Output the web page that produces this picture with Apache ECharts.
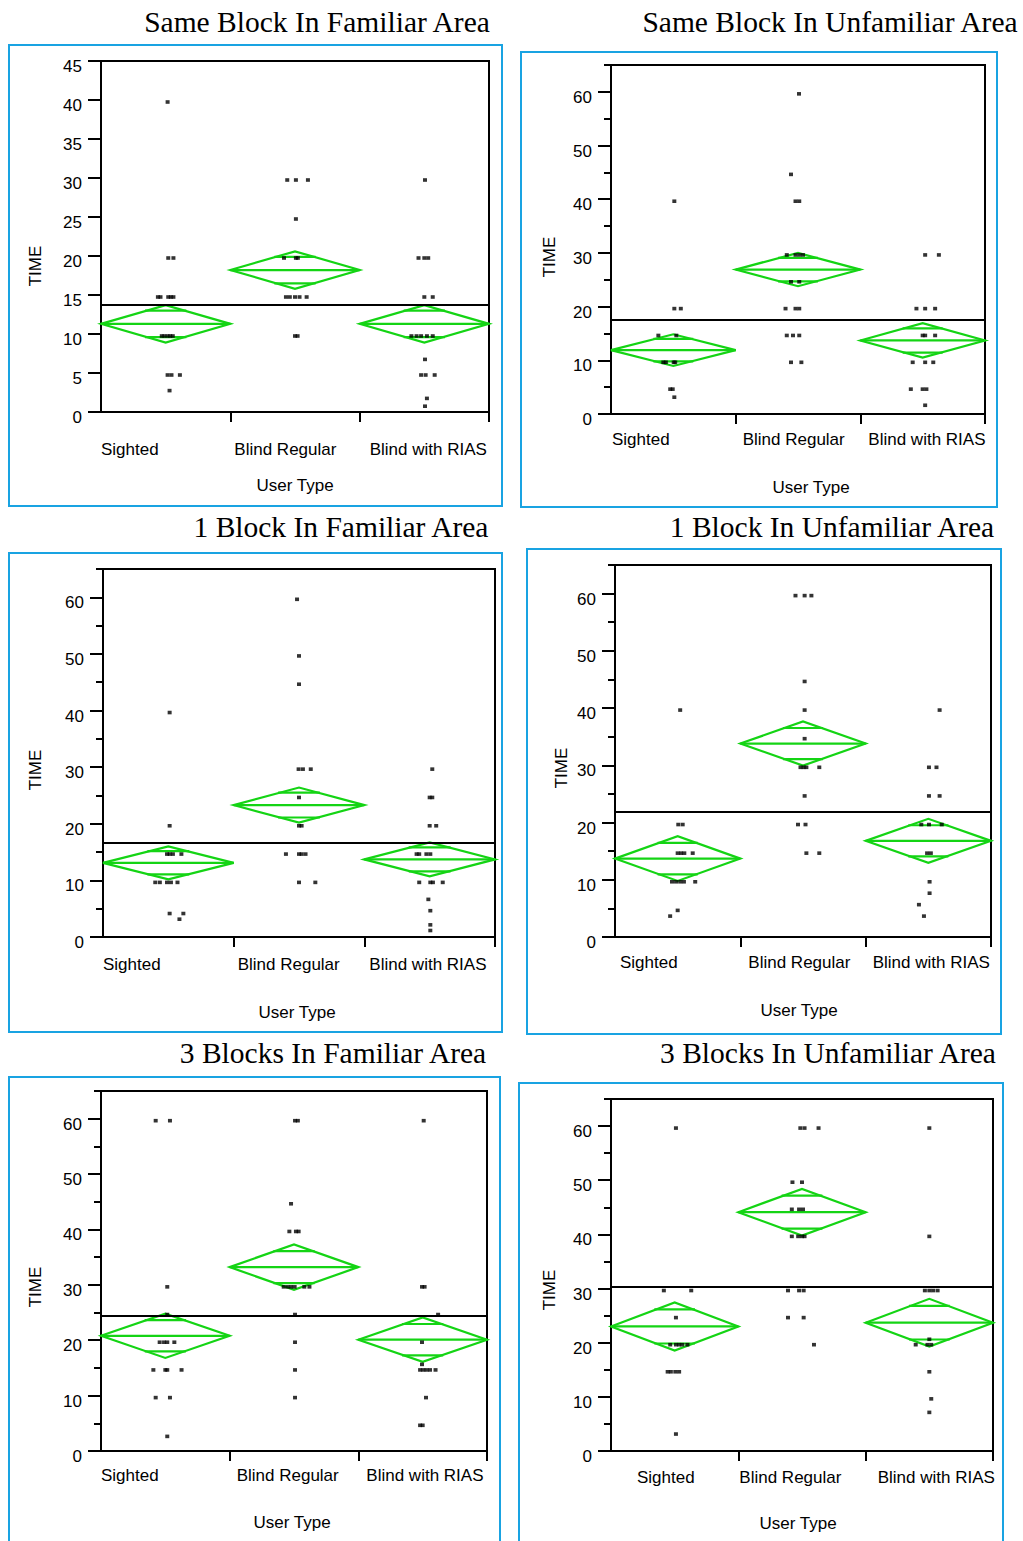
<!DOCTYPE html>
<html>
<head>
<meta charset="utf-8">
<title>TIME by User Type</title>
<script src="https://cdn.jsdelivr.net/npm/echarts@6/dist/echarts.min.js"></script>
<style>
html, body { margin: 0; padding: 0; background: #fff; }
#main { width: 1023px; height: 1541px; }
</style>
</head>
<body>
<div id="main"></div>
<script>
// categories / labels
const userTypes = ['Sighted', 'Blind Regular', 'Blind with RIAS'];
const titles = ['Same Block In Familiar Area', 'Same Block In Unfamiliar Area',
  '1 Block In Familiar Area', '1 Block In Unfamiliar Area',
  '3 Blocks In Familiar Area', '3 Blocks In Unfamiliar Area'];
const yName = 'TIME';
const xName = 'User Type';
const ticksTo45 = [0, 5, 10, 15, 20, 25, 30, 35, 40, 45];
const ticksTo60 = [0, 10, 20, 30, 40, 50, 60];
const minorTo65 = [5, 15, 25, 35, 45, 55, 65];

// points: [time, jitter within group]
const p1Sighted = [[40,.015],[20,.02],[20,.06],[15,-.06],[15,-.04],[15,.02],[15,.04],[15,.06],[10,-.03],[10,-.01],[10,.015],[10,.035],[10,.055],[5,.015],[5,.045],[5,.11],[3,.03]];
const p1Regular = [[30,-.06],[30,.007],[30,.10],[25,.007],[20,-.085],[20,.007],[20,.022],[15,-.07],[15,-.04],[15,0],[15,.035],[15,.09],[10,0],[10,.02]];
const p1Rias = [[30,.005],[20,-.045],[20,0],[20,.03],[15,0],[15,.065],[10,-.1],[10,-.06],[10,-.025],[10,.02],[10,.065],[7,.005],[5,-.025],[5,.01],[5,.08],[2,.02],[1,.005]];
const p1Means = [11.3, 18.2, 11.3];
const p1Ci = [2.4, 2.4, 2.4];
const p1Grand = 13.8;

const p2Sighted = [[40,.008],[20,.008],[20,.06],[15,-.12],[15,.024],[10,-.08],[10,-.06],[10,.003],[10,.015],[5,-.025],[5,-.005],[3.5,.008]];
const p2Regular = [[60,.008],[45,-.056],[40,-.02],[40,.01],[30,-.09],[30,-.02],[30,.01],[30,.04],[25,-.056],[25,.01],[20,-.1],[20,-.02],[20,.01],[15,-.09],[15,-.04],[15,.01],[10,-.056],[10,.027]];
const p2Rias = [[30,.02],[30,.13],[20,-.05],[20,.02],[20,.1],[15,0],[15,.02],[15,.1],[10,-.08],[10,.02],[10,.085],[5,-.095],[5,0],[5,.03],[2,.02]];
const p2Means = [11.9, 26.9, 13.7];
const p2Ci = [2.95, 3.1, 3.2];
const p2Grand = 17.5;

const p3Sighted = [[40,.01],[20,.01],[15,-.01],[15,.01],[15,.035],[15,.1],[10,-.1],[10,-.065],[10,-.01],[10,.02],[10,.07],[4.5,.01],[4.5,.115],[3.5,.085]];
const p3Regular = [[60,-.015],[50,0],[45,0],[30,-.003],[30,.03],[30,.09],[25,0],[20,0],[20,.02],[15,-.1],[15,0],[15,.02],[15,.05],[10,0],[10,.125]];
const p3Rias = [[30,.02],[25,0],[25,.02],[20,0],[20,.05],[15,-.1],[15,-.08],[15,-.025],[15,.005],[10,-.08],[10,.005],[10,.025],[10,.1],[7,-.01],[5,.005],[2.5,.005],[1.5,.005]];
const p3Means = [13.1, 23.3, 13.7];
const p3Ci = [2.9, 3.1, 3.0];
const p3Grand = 16.6;

const p4Sighted = [[40,.02],[20,.005],[20,.04],[15,0],[15,.027],[15,.053],[15,.12],[10,-.045],[10,-.013],[10,.02],[10,.05],[10,.14],[5,0],[4,-.06]];
const p4Regular = [[60,-.06],[60,.013],[60,.067],[45,.013],[40,.013],[35,.013],[30,-.02],[30,.005],[30,.027],[30,.13],[25,.013],[20,-.04],[20,.02],[15,.027],[15,.13]];
const p4Rias = [[40,.09],[30,.005],[30,.065],[25,.005],[25,.09],[20,-.056],[20,.005],[20,.107],[15,-.01],[15,.02],[10,.01],[8,.01],[6,-.075],[4,-.035]];
const p4Means = [13.7, 33.8, 16.8];
const p4Ci = [3.9, 3.85, 3.85];
const p4Grand = 21.8;

const p5Sighted = [[60,-.075],[60,.036],[30,.015],[25,.015],[20,-.044],[20,-.01],[20,.015],[20,.07],[15,-.093],[15,0],[15,.015],[15,.126],[10,-.075],[10,.036],[3,.015]];
const p5Regular = [[60,.008],[60,.03],[45,-.023],[40,-.036],[40,.015],[40,.036],[30,-.08],[30,-.05],[30,-.023],[30,.005],[30,.08],[30,.12],[25,.008],[20,.008],[15,.008],[10,.008]];
const p5Rias = [[60,.008],[30,-.005],[30,.015],[25,.12],[20,-.005],[16,-.005],[15,-.02],[15,.005],[15,.03],[15,.057],[15,.1],[10,.026],[5,-.02],[5,0]];
const p5Means = [20.8, 33.2, 20.1];
const p5Ci = [4.0, 4.1, 4.0];
const p5Grand = 24.5;

const p6Sighted = [[60,.01],[30,-.085],[30,.13],[25,.01],[20,-.035],[20,.01],[20,.035],[20,.06],[20,.1],[15,-.055],[15,-.03],[15,.005],[15,.035],[3.5,.01]];
const p6Regular = [[60,-.013],[60,.02],[60,.13],[50,-.075],[50,0],[45,-.08],[45,-.023],[45,.008],[40,-.08],[40,-.03],[40,0],[40,.02],[30,-.11],[30,-.023],[30,.013],[25,-.11],[25,.013],[20,.094]];
const p6Rias = [[60,0],[40,0],[30,-.035],[30,0],[30,.03],[30,.065],[21,0],[20,-.107],[20,-.015],[20,.015],[15,0],[10,.015],[7.5,0]];
const p6Means = [23.0, 44.1, 23.7];
const p6Ci = [4.45, 4.3, 4.4];
const p6Grand = 30.3;

const panelData = [
  { groups: [p1Sighted, p1Regular, p1Rias], means: p1Means, ci: p1Ci, grand: p1Grand, major: ticksTo45, minor: [] },
  { groups: [p2Sighted, p2Regular, p2Rias], means: p2Means, ci: p2Ci, grand: p2Grand, major: ticksTo60, minor: minorTo65 },
  { groups: [p3Sighted, p3Regular, p3Rias], means: p3Means, ci: p3Ci, grand: p3Grand, major: ticksTo60, minor: minorTo65 },
  { groups: [p4Sighted, p4Regular, p4Rias], means: p4Means, ci: p4Ci, grand: p4Grand, major: ticksTo60, minor: minorTo65 },
  { groups: [p5Sighted, p5Regular, p5Rias], means: p5Means, ci: p5Ci, grand: p5Grand, major: ticksTo60, minor: minorTo65 },
  { groups: [p6Sighted, p6Regular, p6Rias], means: p6Means, ci: p6Ci, grand: p6Grand, major: ticksTo60, minor: minorTo65 }
];

// page layout (pixels)
const layout = [
  { box: [9, 45, 493, 461], grid: [101, 61, 388, 351], yMax: 45, title: [317, 22], yLab: [35, 266], xLab: [295, 485], labMargin: 28.5, labShift: [0, 4, 10] },
  { box: [521, 52, 476, 455], grid: [611, 65, 374, 349], yMax: 65, title: [830, 22], yLab: [549, 257], xLab: [811, 487], labMargin: 16.5, labShift: [1, 7, 8] },
  { box: [9, 553, 493, 479], grid: [103, 569, 392, 368], yMax: 65, title: [341, 527], yLab: [35, 770], xLab: [297, 1012], labMargin: 18.5, labShift: [0, 4, 5] },
  { box: [527, 549, 474, 485], grid: [615, 565, 376, 372], yMax: 65, title: [832, 527], yLab: [561, 768], xLab: [799, 1010], labMargin: 16.5, labShift: [5, 8, 7] },
  { box: [9, 1077, 491, 500], grid: [101, 1091, 386, 360], yMax: 65, title: [333, 1053], yLab: [35, 1287], xLab: [292, 1522], labMargin: 15.5, labShift: [0, 7, 8] },
  { box: [519, 1083, 484, 500], grid: [611, 1099, 382, 352], yMax: 65, title: [828, 1053], yLab: [549, 1290], xLab: [798, 1523], labMargin: 17.5, labShift: [26, 1, 12] }
];

const SANS = 'Liberation Sans, Arial, sans-serif';
const SERIF = 'Liberation Serif, Times New Roman, serif';
const GREEN = '#14d414';
const BLUE = '#19a3e2';

const chart = echarts.init(document.getElementById('main'), null, { renderer: 'svg' });

const grids = [], xAxes = [], yAxes = [], series = [], graphics = [];

layout.forEach((L, i) => {
  const D = panelData[i];
  grids.push({
    left: L.grid[0], top: L.grid[1], width: L.grid[2], height: L.grid[3],
    show: true, borderColor: '#000', borderWidth: 2, backgroundColor: 'transparent'
  });

  const rich = {};
  L.labShift.forEach((s, k) => {
    rich['s' + k] = { fontFamily: SANS, fontSize: 17, color: '#000', padding: [0, 0, 0, s] };
  });
  xAxes.push({
    type: 'value', gridIndex: i, min: 0, max: 3, interval: 1,
    splitLine: { show: false },
    axisLine: { show: true, lineStyle: { color: '#000', width: 2 } },
    axisTick: { show: true, length: 10, lineStyle: { color: '#000', width: 2 }, customValues: [1, 2, 3] },
    axisLabel: {
      show: true, align: 'left', margin: L.labMargin, customValues: [0, 1, 2],
      formatter: v => (v < 3 ? '{s' + v + '|' + userTypes[v] + '}' : ''),
      rich: rich
    }
  });

  yAxes.push({
    type: 'value', gridIndex: i, min: 0, max: L.yMax, position: 'left',
    splitLine: { show: false },
    axisLine: { show: true, lineStyle: { color: '#000', width: 2 } },
    axisTick: { show: true, length: 13, lineStyle: { color: '#000', width: 2 }, customValues: D.major },
    axisLabel: {
      show: true, customValues: D.major, margin: 19,
      verticalAlign: 'top', lineHeight: 11,
      fontFamily: SANS, fontSize: 17, color: '#000'
    }
  });
  yAxes.push({
    type: 'value', gridIndex: i, min: 0, max: L.yMax, position: 'left',
    splitLine: { show: false },
    axisLine: { show: false },
    axisTick: { show: D.minor.length > 0, length: 7, lineStyle: { color: '#000', width: 2 }, customValues: D.minor.length ? D.minor : [0] },
    axisLabel: { show: false }
  });

  // mean diamonds
  series.push({
    type: 'custom', xAxisIndex: i, yAxisIndex: 2 * i, silent: true, z: 3,
    data: D.means.map((m, g) => [g, m, D.ci[g]]),
    encode: { x: 0, y: 1 },
    renderItem: (params, api) => {
      const g = api.value(0), m = api.value(1), c = api.value(2);
      const mid = g + 0.5, o = c * Math.SQRT1_2, h = 0.16;
      const Lp = api.coord([g, m]), Rp = api.coord([g + 1, m]);
      const Tp = api.coord([mid, m + c]), Bp = api.coord([mid, m - c]);
      const u1 = api.coord([mid - h, m + o]), u2 = api.coord([mid + h, m + o]);
      const d1 = api.coord([mid - h, m - o]), d2 = api.coord([mid + h, m - o]);
      const st = { fill: 'none', stroke: GREEN, lineWidth: 2.2 };
      return {
        type: 'group',
        children: [
          { type: 'polygon', shape: { points: [Lp, Tp, Rp, Bp] }, style: st },
          { type: 'line', shape: { x1: Lp[0], y1: Lp[1], x2: Rp[0], y2: Rp[1] }, style: st },
          { type: 'line', shape: { x1: u1[0], y1: u1[1], x2: u2[0], y2: u2[1] }, style: st },
          { type: 'line', shape: { x1: d1[0], y1: d1[1], x2: d2[0], y2: d2[1] }, style: st }
        ]
      };
    }
  });

  // observations + grand mean
  series.push({
    type: 'scatter', xAxisIndex: i, yAxisIndex: 2 * i, silent: true, z: 4,
    symbol: 'rect', symbolSize: [4, 3.6], symbolOffset: [0, 2],
    itemStyle: { color: '#000' },
    data: D.groups.flatMap((pts, g) => pts.map(([t, j]) => [g + 0.5 + j, t])),
    markLine: {
      silent: true, symbol: 'none', animation: false,
      label: { show: false },
      lineStyle: { color: '#000', width: 2, type: 'solid' },
      data: [{ yAxis: D.grand }]
    }
  });

  // frame, title, axis names
  graphics.push({
    type: 'rect', shape: { x: L.box[0], y: L.box[1], width: L.box[2], height: L.box[3] },
    style: { fill: 'none', stroke: BLUE, lineWidth: 2 }, silent: true
  });
  graphics.push({
    type: 'text', x: L.title[0], y: L.title[1],
    style: { text: titles[i], font: '29.5px ' + SERIF, fill: '#000', align: 'center', verticalAlign: 'middle' }
  });
  graphics.push({
    type: 'text', x: L.yLab[0], y: L.yLab[1], rotation: Math.PI / 2,
    style: { text: yName, font: '17px ' + SANS, fill: '#000', align: 'center', verticalAlign: 'middle' }
  });
  graphics.push({
    type: 'text', x: L.xLab[0], y: L.xLab[1],
    style: { text: xName, font: '17px ' + SANS, fill: '#000', align: 'center', verticalAlign: 'middle' }
  });
});

chart.setOption({
  animation: false,
  backgroundColor: '#fff',
  grid: grids,
  xAxis: xAxes,
  yAxis: yAxes,
  series: series,
  graphic: { elements: graphics }
});
</script>
</body>
</html>
